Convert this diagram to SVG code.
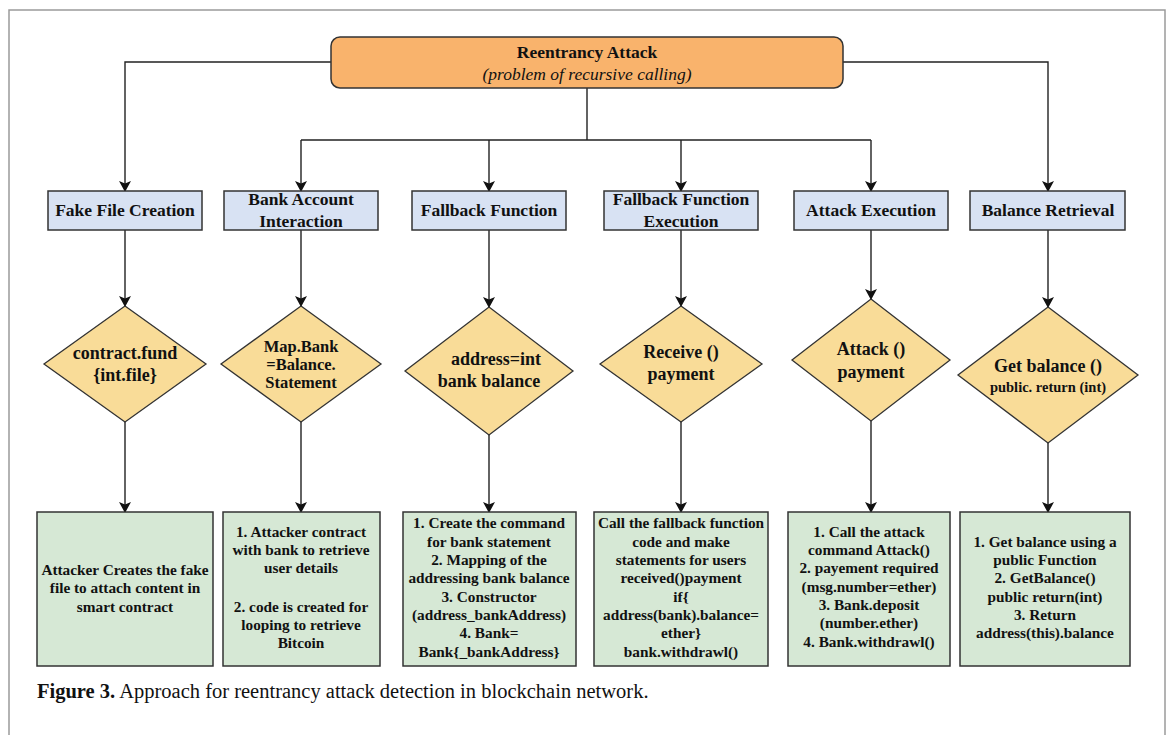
<svg xmlns="http://www.w3.org/2000/svg" width="1171" height="735" viewBox="0 0 1171 735">
<defs>
<marker id="arr" markerWidth="11" markerHeight="12" refX="10" refY="6" orient="auto" markerUnits="userSpaceOnUse">
<path d="M0,0 L11,6 L0,12 L2.5,6 z" fill="#111"/>
</marker>
<style>
.t{font-family:"Liberation Serif","Times New Roman",serif;font-weight:bold;fill:#111;text-anchor:middle}
.hd{font-size:17.5px}
.dm{font-size:18px}
.gr{font-size:15.3px}
.blue{fill:#D8E2F3;stroke:#333;stroke-width:1.5}
.dia{fill:#F9DC98;stroke:#333;stroke-width:1.3}
.grn{fill:#D6E8D5;stroke:#333;stroke-width:1.5}
.ln{fill:none;stroke:#222;stroke-width:1.4}
.ar{fill:none;stroke:#222;stroke-width:1.4;marker-end:url(#arr)}
</style>
</defs>
<rect x="0" y="0" width="1171" height="735" fill="#fff"/>
<path d="M9,740 L9,10 L1165,10 L1165,740" fill="none" stroke="#9a9a9a" stroke-width="1.5"/>

<g id="connectors">
<path class="ln" d="M587,88 L587,140 M301,140 L871,140"/>
<path class="ar" d="M331,62 L125,62 L125,191"/>
<path class="ar" d="M843,62 L1048,62 L1048,191"/>
<path class="ar" d="M301,140 L301,191"/>
<path class="ar" d="M489,140 L489,191"/>
<path class="ar" d="M681,140 L681,191"/>
<path class="ar" d="M871,140 L871,191"/>
<path class="ar" d="M125,230 L125,306"/>
<path class="ar" d="M301,230 L301,306"/>
<path class="ar" d="M489,230 L489,307"/>
<path class="ar" d="M681,230 L681,306"/>
<path class="ar" d="M871,230 L871,299"/>
<path class="ar" d="M1048,230 L1048,307"/>
<path class="ar" d="M125,422 L125,512"/>
<path class="ar" d="M301,422 L301,512"/>
<path class="ar" d="M489,435 L489,512"/>
<path class="ar" d="M681,422 L681,512"/>
<path class="ar" d="M871,421 L871,512"/>
<path class="ar" d="M1048,443 L1048,512"/>
</g>

<g id="root">
<rect x="331" y="37" width="512" height="51" rx="9" fill="#F9B36C" stroke="#333" stroke-width="1.5"/>
<text class="t" x="587" y="58" font-size="17.5">Reentrancy Attack</text>
<text x="587" y="80" font-family="Liberation Serif, Times New Roman, serif" font-style="italic" font-size="17.5" text-anchor="middle" fill="#111">(problem of recursive calling)</text>
</g>

<g id="h1"><rect class="blue" x="48" y="191" width="154" height="39"/><text class="t hd" x="125" y="216">Fake File Creation</text></g>
<g id="h2"><rect class="blue" x="224" y="191" width="154" height="39"/><text class="t hd" x="301" y="205">Bank Account</text><text class="t hd" x="301" y="227">Interaction</text></g>
<g id="h3"><rect class="blue" x="412" y="191" width="154" height="39"/><text class="t hd" x="489" y="216">Fallback Function</text></g>
<g id="h4"><rect class="blue" x="604" y="191" width="154" height="39"/><text class="t hd" x="681" y="205">Fallback Function</text><text class="t hd" x="681" y="227">Execution</text></g>
<g id="h5"><rect class="blue" x="794" y="191" width="154" height="39"/><text class="t hd" x="871" y="216">Attack Execution</text></g>
<g id="h6"><rect class="blue" x="970" y="191" width="155" height="39"/><text class="t hd" x="1048" y="216">Balance Retrieval</text></g>

<g id="d1"><polygon class="dia" points="125,306 206,364 125,422 44,364"/><text class="t dm" x="125" y="359">contract.fund</text><text class="t dm" x="125" y="381">{int.file}</text></g>
<g id="d2"><polygon class="dia" points="301,306 381,364 301,422 221,364"/><text class="t" font-size="16.5" x="301" y="352">Map.Bank</text><text class="t" font-size="16.5" x="301" y="370">=Balance.</text><text class="t" font-size="16.5" x="301" y="388">Statement</text></g>
<g id="d3"><polygon class="dia" points="489,307 573,371 489,435 405,371"/><text class="t dm" x="496" y="365">address=int</text><text class="t dm" x="489" y="387">bank balance</text></g>
<g id="d4"><polygon class="dia" points="681,306 762,364 681,422 600,364"/><text class="t dm" x="681" y="358">Receive ()</text><text class="t dm" x="681" y="380">payment</text></g>
<g id="d5"><polygon class="dia" points="871,299 950,360 871,421 792,360"/><text class="t dm" x="871" y="355">Attack ()</text><text class="t dm" x="871" y="378">payment</text></g>
<g id="d6"><polygon class="dia" points="1048,307 1138,375 1048,443 958,375"/><text class="t dm" x="1048" y="372">Get balance ()</text><text class="t" font-size="14.5" x="1048" y="392">public. return (int)</text></g>

<g id="g1"><rect class="grn" x="37" y="512" width="176" height="154"/>
<text class="t gr" x="125" y="575">Attacker Creates the fake</text><text class="t gr" x="125" y="593">file to attach content in</text><text class="t gr" x="125" y="612">smart contract</text></g>
<g id="g2"><rect class="grn" x="223" y="512" width="157" height="154"/>
<text class="t gr" x="301" y="537">1. Attacker contract</text><text class="t gr" x="301" y="555">with bank to retrieve</text><text class="t gr" x="301" y="573">user details</text>
<text class="t gr" x="301" y="612">2. code is created for</text><text class="t gr" x="301" y="630">looping to retrieve</text><text class="t gr" x="301" y="648">Bitcoin</text></g>
<g id="g3"><rect class="grn" x="403" y="512" width="173" height="154"/>
<text class="t gr" x="489" y="528">1. Create the command</text><text class="t gr" x="489" y="547">for bank statement</text><text class="t gr" x="489" y="565">2. Mapping of the</text><text class="t gr" x="489" y="583">addressing bank balance</text><text class="t gr" x="489" y="602">3. Constructor</text><text class="t gr" x="489" y="620">(address_bankAddress)</text><text class="t gr" x="489" y="638">4. Bank=</text><text class="t gr" x="489" y="657">Bank{_bankAddress}</text></g>
<g id="g4"><rect class="grn" x="594" y="512" width="174" height="154"/>
<text class="t gr" x="681" y="528">Call the fallback function</text><text class="t gr" x="681" y="547">code and make</text><text class="t gr" x="681" y="565">statements for users</text><text class="t gr" x="681" y="583">received()payment</text><text class="t gr" x="681" y="602">if{</text><text class="t gr" x="681" y="620">address(bank).balance=</text><text class="t gr" x="681" y="638">ether}</text><text class="t gr" x="681" y="657">bank.withdrawl()</text></g>
<g id="g5"><rect class="grn" x="788" y="512" width="162" height="154"/>
<text class="t gr" x="869" y="537">1. Call the attack</text><text class="t gr" x="869" y="555">command Attack()</text><text class="t gr" x="869" y="573">2. payement required</text><text class="t gr" x="869" y="592">(msg.number=ether)</text><text class="t gr" x="869" y="610">3. Bank.deposit</text><text class="t gr" x="869" y="628">(number.ether)</text><text class="t gr" x="869" y="647">4. Bank.withdrawl()</text></g>
<g id="g6"><rect class="grn" x="960" y="512" width="170" height="154"/>
<text class="t gr" x="1045" y="547">1. Get balance using a</text><text class="t gr" x="1045" y="565">public Function</text><text class="t gr" x="1045" y="583">2. GetBalance()</text><text class="t gr" x="1045" y="602">public return(int)</text><text class="t gr" x="1045" y="620">3. Return</text><text class="t gr" x="1045" y="638">address(this).balance</text></g>

<text x="37" y="698" font-family="Liberation Serif, Times New Roman, serif" font-size="20.5" fill="#111"><tspan font-weight="bold">Figure 3.</tspan> Approach for reentrancy attack detection in blockchain network.</text>
</svg>
